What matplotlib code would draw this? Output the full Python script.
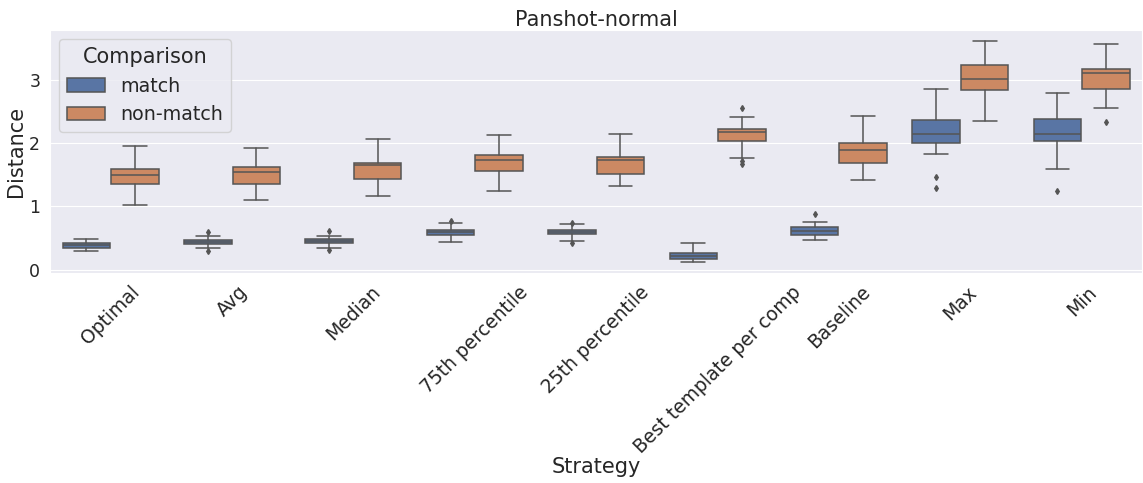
import matplotlib
matplotlib.use("Agg")
import matplotlib.pyplot as plt
from matplotlib.patches import Patch
import seaborn as sns

sns.set_style("darkgrid")
plt.rcParams['font.family'] = ['DejaVu Sans']

strategies = ["Optimal", "Avg", "Median", "75th percentile", "25th percentile",
              "Best template per comp", "Baseline", "Max", "Min"]
hues = ["match", "non-match"]

# box statistics per strategy, read as distance values
match_whislo = [0.29, 0.34, 0.35, 0.44, 0.46, 0.13, 0.47, 1.83, 1.59]
match_q1     = [0.35, 0.41, 0.42, 0.55, 0.56, 0.17, 0.55, 2.01, 2.03]
match_med    = [0.39, 0.44, 0.46, 0.59, 0.60, 0.21, 0.62, 2.15, 2.15]
match_q3     = [0.42, 0.47, 0.48, 0.63, 0.63, 0.27, 0.67, 2.37, 2.38]
match_whishi = [0.48, 0.53, 0.54, 0.74, 0.72, 0.43, 0.76, 2.85, 2.79]
match_fliers = [[], [0.59, 0.30], [0.61, 0.31], [0.77], [0.74, 0.42],
                [], [0.88], [1.47, 1.29], [1.24]]

nonmatch_whislo = [1.03, 1.11, 1.16, 1.25, 1.32, 1.77, 1.42, 2.35, 2.55]
nonmatch_q1     = [1.35, 1.35, 1.43, 1.56, 1.52, 2.03, 1.68, 2.84, 2.86]
nonmatch_med    = [1.49, 1.54, 1.66, 1.74, 1.73, 2.17, 1.89, 3.01, 3.11]
nonmatch_q3     = [1.60, 1.62, 1.68, 1.82, 1.78, 2.22, 2.01, 3.24, 3.18]
nonmatch_whishi = [1.95, 1.93, 2.06, 2.13, 2.15, 2.41, 2.43, 3.62, 3.56]
nonmatch_fliers = [[], [], [], [], [], [2.55, 1.72, 1.67], [], [], [2.33]]

colors = ["#5975a4", "#cc8963"]
gray = "#555555"
lw = 1.1


def make_stats(lo, q1, med, q3, hi, fl):
    return [dict(whislo=a, q1=b, med=c, q3=d, whishi=e, fliers=f)
            for a, b, c, d, e, f in zip(lo, q1, med, q3, hi, fl)]


series = [
    make_stats(match_whislo, match_q1, match_med, match_q3, match_whishi, match_fliers),
    make_stats(nonmatch_whislo, nonmatch_q1, nonmatch_med, nonmatch_q3, nonmatch_whishi, nonmatch_fliers),
]

fig, ax = plt.subplots(figsize=(11.43, 4.83), dpi=100)
fig.subplots_adjust(left=0.0437, right=0.9995, top=0.938, bottom=0.4354)

offsets = [-0.2, 0.2]
for stats, off, col in zip(series, offsets, colors):
    pos = [i + off for i in range(len(strategies))]
    ax.bxp(stats, positions=pos, widths=0.392, patch_artist=True,
           boxprops=dict(facecolor=col, edgecolor=gray, linewidth=lw),
           medianprops=dict(color=gray, linewidth=lw),
           whiskerprops=dict(color=gray, linewidth=lw),
           capprops=dict(color=gray, linewidth=lw),
           flierprops=dict(marker="d", markerfacecolor=gray, markeredgecolor=gray,
                           markersize=3, linestyle="none"),
           manage_ticks=False)

ax.set_xlim(-0.5, len(strategies) - 0.5)
ax.set_ylim(-0.047, 3.79)
ax.set_xticks(range(len(strategies)))
ax.set_xticklabels(strategies, rotation=45, fontsize=13.5)
ax.set_yticks([0, 1, 2, 3])
ax.tick_params(axis="y", labelsize=12.5)
ax.xaxis.grid(False)
ax.set_xlabel("Strategy", fontsize=15, labelpad=0)
ax.set_ylabel("Distance", fontsize=15, labelpad=2)
ax.set_title("Panshot-normal", fontsize=15, pad=3)

handles = [Patch(facecolor=c, edgecolor=gray, linewidth=lw, label=h)
           for c, h in zip(colors, hues)]
ax.legend(handles=handles, title="Comparison", loc="upper left",
          fontsize=13.7, title_fontsize=15)

fig.savefig("out.png", dpi=100)
